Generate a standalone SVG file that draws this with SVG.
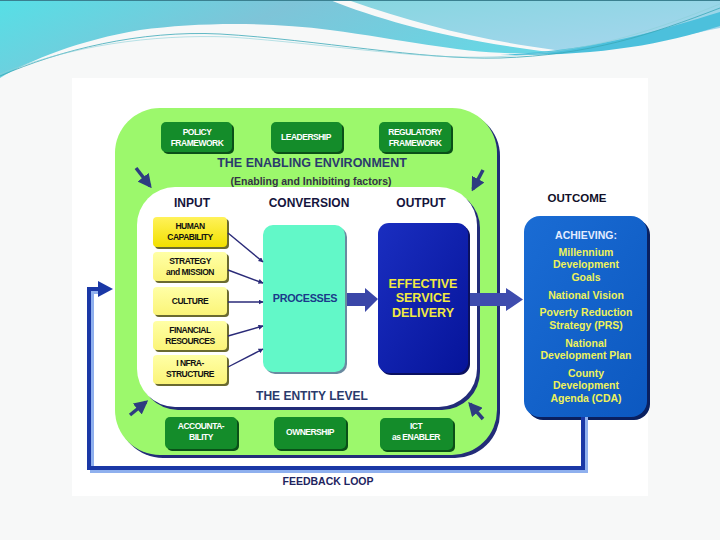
<svg xmlns="http://www.w3.org/2000/svg" width="720" height="540" viewBox="0 0 720 540">
<defs>
<linearGradient id="tealL" x1="0" y1="0" x2="1" y2="0.3">
<stop offset="0" stop-color="#56dfe6"/><stop offset="0.5" stop-color="#7ec4d8"/><stop offset="1" stop-color="#68d6e4"/>
</linearGradient>
<linearGradient id="blueR" x1="0" y1="0" x2="1" y2="1">
<stop offset="0" stop-color="#86d6e0"/><stop offset="1" stop-color="#a8d6ee"/>
</linearGradient>
<linearGradient id="yel1" x1="0" y1="0" x2="0" y2="1">
<stop offset="0" stop-color="#fff25a"/><stop offset="1" stop-color="#f2e000"/>
</linearGradient>
<linearGradient id="yel2" x1="0" y1="0" x2="0" y2="1">
<stop offset="0" stop-color="#ffffa6"/><stop offset="1" stop-color="#fbf478"/>
</linearGradient>
<linearGradient id="outg" x1="0" y1="0" x2="1" y2="1">
<stop offset="0" stop-color="#1a2ec0"/><stop offset="1" stop-color="#06149a"/>
</linearGradient>
<linearGradient id="ocg" x1="0" y1="0" x2="1" y2="1">
<stop offset="0" stop-color="#1a6cd4"/><stop offset="1" stop-color="#0c58c0"/>
</linearGradient>
<marker id="ah" viewBox="0 0 10 10" refX="9" refY="5" markerWidth="5" markerHeight="5" orient="auto" markerUnits="userSpaceOnUse">
<path d="M0,0 L10,5 L0,10 z" fill="#2a2a78"/>
</marker>
<marker id="ahd" viewBox="0 0 10 10" refX="8" refY="5" markerWidth="4" markerHeight="4" orient="auto">
<path d="M0,0 L10,5 L0,10 z" fill="#2e3c80"/>
</marker>
</defs>
<style>
.t{font-family:"Liberation Sans",Arial,sans-serif;font-weight:bold;text-anchor:middle}
.sm{font-size:8.5px;letter-spacing:-0.5px}
.w{fill:#ffffff}
.k{fill:#111111}
.gb{fill:#148c2a}
.gs{fill:#0a5018}
.ys{fill:#6a6a30}
.hd{font-size:12px;fill:#14143c}
.oc{font-size:10.5px;fill:#eef25a}
.diag{stroke:#2e3c80;stroke-width:3.5;fill:none}
.in{stroke:#2a2a78;stroke-width:1.4;fill:none}
</style>
<rect x="0" y="0" width="720" height="540" fill="#f7f8f8"/>
<rect x="72" y="78" width="576" height="418" fill="#ffffff"/>
<!-- header wave -->
<g id="header">
<path d="M0,0 H330 C380,20 450,40 550,52 C480,58 420,42 330,30 C270,22 200,22 140,30 C80,40 30,60 0,78 Z" fill="url(#tealL)"/>
<path d="M348,0 H720 V28 C660,40 610,52 555,50 C480,40 420,25 348,0 Z" fill="url(#blueR)"/>
<path d="M500,55 C600,50 660,30 720,12 V26 C660,45 600,56 500,55 Z" fill="#4cc0dc"/>
<path d="M0,76 C60,50 140,30 220,34 C320,40 420,60 500,58 C590,55 650,35 720,8" fill="none" stroke="#3aa8b8" stroke-width="0.8"/>
<path d="M0,74 C70,46 150,34 230,37 C330,44 430,62 510,56 C600,50 660,28 720,4" fill="none" stroke="#8ad0d8" stroke-width="0.6"/>
<line x1="0" y1="0.5" x2="720" y2="0.5" stroke="#3a8090" stroke-width="1"/>
</g>
<!-- enabling environment -->
<g id="enabling-environment">
<rect x="118" y="111" width="382" height="347" rx="45" fill="#222c78"/>
<rect x="115" y="108" width="382" height="347" rx="45" fill="#9cf86c"/>
<text class="t" x="312" y="167" font-size="12.5" fill="#2a3a6c">THE ENABLING ENVIRONMENT</text>
<text class="t" x="311" y="185" font-size="10.5" fill="#333344">(Enabling and Inhibiting factors)</text>
</g>
<g id="entity-level">
<rect x="140" y="190" width="340" height="220" rx="38" fill="#222c78"/>
<rect x="137" y="187" width="340" height="220" rx="38" fill="#ffffff"/>
<text class="t" x="312" y="400" font-size="12" fill="#2a3a6c">THE ENTITY LEVEL</text>
<text class="t hd" x="192" y="207">INPUT</text>
<text class="t hd" x="309" y="207">CONVERSION</text>
<text class="t hd" x="421" y="207">OUTPUT</text>
</g>
<!-- top green boxes -->
<g id="policy-framework">
<rect class="gs" x="163" y="124" width="71" height="30" rx="5"/>
<rect class="gb" x="161" y="122" width="71" height="30" rx="5"/>
<text class="t sm w" x="197" y="135">POLICY</text>
<text class="t sm w" x="197" y="146">FRAMEWORK</text>
</g>
<g id="leadership">
<rect class="gs" x="273" y="124" width="71" height="30" rx="5"/>
<rect class="gb" x="271" y="122" width="71" height="30" rx="5"/>
<text class="t sm w" x="306" y="140">LEADERSHIP</text>
</g>
<g id="regulatory-framework">
<rect class="gs" x="381" y="124" width="72" height="30" rx="5"/>
<rect class="gb" x="379" y="122" width="72" height="30" rx="5"/>
<text class="t sm w" x="415" y="135">REGULATORY</text>
<text class="t sm w" x="415" y="146">FRAMEWORK</text>
</g>
<!-- bottom green boxes -->
<g id="accountability">
<rect class="gs" x="167" y="419" width="72" height="32" rx="5"/>
<rect class="gb" x="165" y="417" width="72" height="32" rx="5"/>
<text class="t sm w" x="201" y="429">ACCOUNTA-</text>
<text class="t sm w" x="201" y="440">BILITY</text>
</g>
<g id="ownership">
<rect class="gs" x="276" y="419" width="72" height="32" rx="5"/>
<rect class="gb" x="274" y="417" width="72" height="32" rx="5"/>
<text class="t sm w" x="310" y="435">OWNERSHIP</text>
</g>
<g id="ict">
<rect class="gs" x="382" y="420" width="73" height="32" rx="5"/>
<rect class="gb" x="380" y="418" width="73" height="32" rx="5"/>
<text class="t sm w" x="416" y="429">ICT</text>
<text class="t sm w" x="416" y="440">as ENABLER</text>
</g>
<!-- input boxes -->
<g id="human-capability">
<rect class="ys" x="155" y="219" width="74" height="30" rx="4"/>
<rect x="153" y="217" width="74" height="30" rx="4" fill="url(#yel1)"/>
<text class="t sm k" x="190" y="229">HUMAN</text>
<text class="t sm k" x="190" y="240">CAPABILITY</text>
</g>
<g id="strategy">
<rect class="ys" x="155" y="254" width="74" height="29" rx="4"/>
<rect x="153" y="252" width="74" height="29" rx="4" fill="url(#yel2)"/>
<text class="t sm k" x="190" y="264">STRATEGY</text>
<text class="t sm k" x="190" y="275">and MISSION</text>
</g>
<g id="culture">
<rect class="ys" x="155" y="289" width="74" height="28" rx="4"/>
<rect x="153" y="287" width="74" height="28" rx="4" fill="url(#yel2)"/>
<text class="t sm k" x="190" y="304">CULTURE</text>
</g>
<g id="financial-resources">
<rect class="ys" x="155" y="323" width="74" height="29" rx="4"/>
<rect x="153" y="321" width="74" height="29" rx="4" fill="url(#yel2)"/>
<text class="t sm k" x="190" y="333">FINANCIAL</text>
<text class="t sm k" x="190" y="344">RESOURCES</text>
</g>
<g id="infrastructure">
<rect class="ys" x="155" y="357" width="74" height="29" rx="4"/>
<rect x="153" y="355" width="74" height="29" rx="4" fill="url(#yel2)"/>
<text class="t sm k" x="190" y="366">I NFRA-</text>
<text class="t sm k" x="190" y="377">STRUCTURE</text>
</g>
<!-- processes -->
<g id="processes">
<rect x="265" y="227" width="82" height="147" rx="10" fill="#6a8aa0"/>
<rect x="263" y="225" width="82" height="147" rx="10" fill="#62f8c8"/>
<text class="t" x="305" y="302" font-size="10.8" fill="#1a3a8a" letter-spacing="-0.3">PROCESSES</text>
</g>
<!-- output -->
<g id="effective-service-delivery">
<rect x="380" y="225" width="90" height="150" rx="11" fill="#0a1060"/>
<rect x="378" y="223" width="90" height="150" rx="11" fill="url(#outg)"/>
<text class="t" x="423" y="288" font-size="12.5" fill="#f2ea40">EFFECTIVE</text>
<text class="t" x="423" y="302" font-size="12.5" fill="#f2ea40">SERVICE</text>
<text class="t" x="423" y="317" font-size="12.5" fill="#f2ea40">DELIVERY</text>
</g>
<!-- outcome -->
<g id="outcome">
<text class="t" x="577" y="202" font-size="11.5" fill="#101028">OUTCOME</text>
<rect x="527" y="219" width="123" height="201" rx="16" fill="#0a2060"/>
<rect x="524" y="216" width="123" height="201" rx="16" fill="url(#ocg)"/>
<text class="t" x="586" y="239" font-size="10.5" fill="#e4ecff">ACHIEVING:</text>
<text class="t oc" x="586" y="256">Millennium</text>
<text class="t oc" x="586" y="268">Development</text>
<text class="t oc" x="586" y="281">Goals</text>
<text class="t oc" x="586" y="299">National Vision</text>
<text class="t oc" x="586" y="316">Poverty Reduction</text>
<text class="t oc" x="586" y="329">Strategy (PRS)</text>
<text class="t oc" x="586" y="347">National</text>
<text class="t oc" x="586" y="359">Development Plan</text>
<text class="t oc" x="586" y="377">County</text>
<text class="t oc" x="586" y="389">Development</text>
<text class="t oc" x="586" y="402">Agenda (CDA)</text>
</g>
<!-- connectors -->
<g id="connectors">
<line class="in" x1="228" y1="233" x2="263" y2="262" marker-end="url(#ah)"/>
<line class="in" x1="228" y1="270" x2="263" y2="283" marker-end="url(#ah)"/>
<line class="in" x1="228" y1="302" x2="263" y2="302" marker-end="url(#ah)"/>
<line class="in" x1="228" y1="336" x2="263" y2="326" marker-end="url(#ah)"/>
<line class="in" x1="228" y1="367" x2="263" y2="349" marker-end="url(#ah)"/>
<line class="diag" x1="136" y1="168" x2="150" y2="186" marker-end="url(#ahd)"/>
<line class="diag" x1="483" y1="170" x2="473" y2="189" marker-end="url(#ahd)"/>
<line class="diag" x1="130" y1="415" x2="146" y2="402" marker-end="url(#ahd)"/>
<line class="diag" x1="483" y1="419" x2="470" y2="404" marker-end="url(#ahd)"/>
<path d="M347,293 H365 V288 L378,299 L365,312 V306 H347 Z" fill="#3a46a8"/>
<path d="M470,293 H506 V288 L523,299.5 L506,311 V306 H470 Z" fill="#3e4cae"/>
<path d="M586,417 V471 H92 V292 H100" fill="none" stroke="#8fb0ee" stroke-width="4"/>
<path d="M583,417 V468 H89 V289 H100" fill="none" stroke="#1a38a6" stroke-width="4"/>
<path d="M98,281 L113,289 L98,297 Z" fill="#1a38a6"/>
</g>
<text class="t" x="328" y="485" font-size="10.5" fill="#1e2460">FEEDBACK LOOP</text>
</svg>
